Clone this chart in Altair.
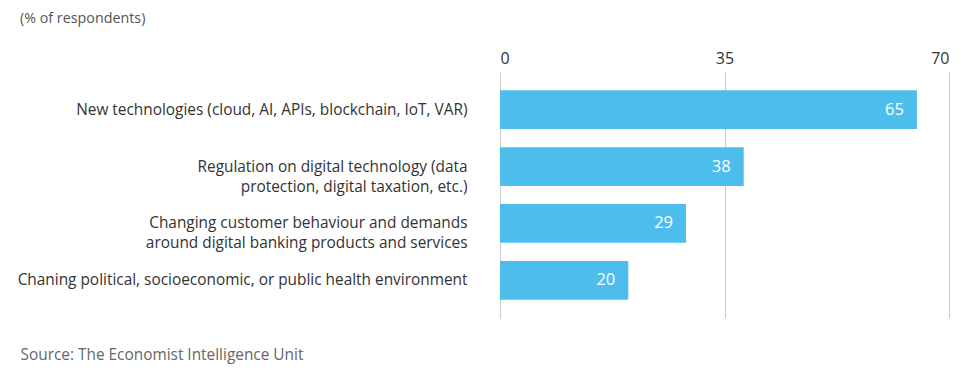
import altair as alt
import pandas as pd

categories = [
    "New technologies (cloud, AI, APIs, blockchain, IoT, VAR)",
    "Regulation on digital technology (data|protection, digital taxation, etc.)",
    "Changing customer behaviour and demands|around digital banking products and services",
    "Chaning political, socioeconomic, or public health environment",
]
values = [65, 38, 29, 20]
ticks = [0, 35, 70]

df = pd.DataFrame({"category": categories, "value": values})

FONT = "Open Sans"
BAR = "#4DBEEC"

y_enc = alt.Y(
    "category:N",
    sort=categories,
    scale=alt.Scale(paddingInner=0.32, paddingOuter=0.32),
    axis=alt.Axis(
        title="Source: The Economist Intelligence Unit",
        titleAngle=0,
        titleAlign="left",
        titleBaseline="middle",
        titleX=-480,
        titleY=282,
        titleFont=FONT,
        titleFontSize=15.4,
        titleFontWeight="normal",
        titleColor="#666666",
        labelExpr="split(datum.label, '|')",
        labelFont=FONT,
        labelFontSize=15.4,
        labelColor="#333333",
        labelPadding=33,
        labelLimit=600,
        labelLineHeight=20,
        domain=False,
        ticks=False,
    ),
)

x_enc = alt.X(
    "value:Q",
    scale=alt.Scale(domain=[0, 70], nice=False),
    axis=alt.Axis(
        orient="top",
        values=ticks,
        title=None,
        labelFont=FONT,
        labelFontSize=16,
        labelColor="#333333",
        labelPadding=6,
        domain=False,
        ticks=False,
        grid=True,
        gridColor="#cccccc",
        gridWidth=1,
    ),
)

bars = alt.Chart(df).mark_bar(color=BAR).encode(x=x_enc, y=y_enc)
labels = alt.Chart(df).mark_text(
    color="white", align="right", baseline="middle", dx=-13, font=FONT, fontSize=16.5
).encode(x="value:Q", y=alt.Y("category:N", sort=categories), text="value:Q")

chart = (
    alt.layer(bars, labels)
    .properties(
        width=449,
        height=246,
        autosize=alt.AutoSizeParams(type="none"),
        padding={"left": 492, "top": 64, "right": 17, "bottom": 46},
        title=alt.TitleParams(
            "(% of respondents)",
            anchor="start",
            frame="group",
            orient="top",
            dx=-480,
            offset=24,
            font=FONT,
            fontSize=14.3,
            fontWeight="normal",
            color="#555555",
        ),
    )
    .configure_view(stroke=None)
)

chart.save("out.html", embed_options={"renderer": "svg", "actions": False})
